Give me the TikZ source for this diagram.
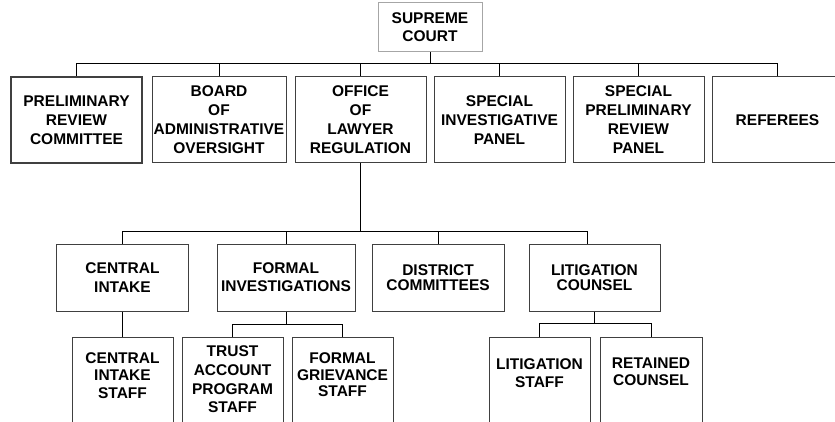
\documentclass[tikz,border=0pt]{standalone}
\usepackage{fontspec}
\setmainfont{Liberation Sans}
\usepackage{tikz}
\newcommand{\orgfont}[1]{\bfseries\fontsize{15.5}{#1}\selectfont}
\tikzset{
	orgbox/.style={draw=black!75, line width=1pt, align=center, inner xsep=0.5pt, font=\orgfont{19}},
	unitbox/.style={orgbox, minimum width=131pt, minimum height=86pt},
	deptbox/.style={orgbox, minimum width=132pt, minimum height=67pt, font=\orgfont{18.3}},
	staffbox/.style={orgbox, anchor=north, minimum width=101pt, text depth=100pt, font=\orgfont{17.5}},
	link/.style={line width=1pt}
}

\begin{document}
\begin{tikzpicture}[x=1pt,y=-1pt]
			\useasboundingbox (0,0) rectangle (835,422);
			\clip (0,0) rectangle (835,422);
			\node[orgbox, draw=black!35, minimum width=104pt, minimum height=49pt, font=\orgfont{18}] (sc) at (430,27.5) {SUPREME\\COURT};
			\node[unitbox, line width=1.7pt] (prc) at (76.5,120) {PRELIMINARY\\REVIEW\\COMMITTEE};
			\node[unitbox, minimum width=134pt] (boa) at (219,120) {BOARD\\OF\\ADMINISTRATIVE\\OVERSIGHT};
			\node[unitbox] (olr) at (360.5,120) {OFFICE\\OF\\LAWYER\\REGULATION};
			\node[unitbox] (sip) at (499.5,120) {SPECIAL\\INVESTIGATIVE\\PANEL};
			\node[unitbox] (sprp) at (638.5,120) {SPECIAL\\PRELIMINARY\\REVIEW\\PANEL};
			\node[unitbox] (ref) at (777.5,120) {REFEREES};
			\node[deptbox] (ci) at (122.5,277.5) {CENTRAL\\INTAKE};
			\node[deptbox, minimum width=138pt] (fi) at (286,277.5) {FORMAL\\INVESTIGATIONS};
			\node[deptbox, font=\orgfont{14.5}] (dc) at (438,277.5) {DISTRICT\\COMMITTEES};
			\node[deptbox, minimum width=131pt, font=\orgfont{14.5}] (lc) at (594.5,277.5) {LITIGATION\\COUNSEL};
			\node[staffbox, inner ysep=15pt] (cis) at (122.5,337) {CENTRAL\\INTAKE\\STAFF};
			\node[staffbox, inner ysep=8.5pt, font=\orgfont{18.7}] (tap) at (232.5,337) {TRUST\\ACCOUNT\\PROGRAM\\STAFF};
			\node[staffbox, inner ysep=15pt, font=\orgfont{16.7}] (fgs) at (342.5,337) {FORMAL\\GRIEVANCE\\STAFF};
			\node[staffbox, inner ysep=21pt, font=\orgfont{18.3}] (ls) at (539.5,337) {LITIGATION\\STAFF};
			\node[staffbox, inner ysep=20pt, minimum width=102pt] (rc) at (651,337) {RETAINED\\COUNSEL};
			\coordinate (b0) at (430,64);
			\coordinate (b1) at (360.5,231);
			\coordinate (b2) at (286,324);
			\coordinate (b3) at (594.5,323.5);
			\draw[link] (sc) -- (b0);
			\draw[link] (b0) -| (prc);
			\draw[link] (b0) -| (boa);
			\draw[link] (b0) -| (olr);
			\draw[link] (b0) -| (sip);
			\draw[link] (b0) -| (sprp);
			\draw[link] (b0) -| (ref);
			\draw[link] (olr) -- (b1);
			\draw[link] (b1) -| (ci);
			\draw[link] (b1) -| (fi);
			\draw[link] (b1) -| (dc);
			\draw[link] (b1) -| ([xshift=-7.5pt]lc.north);
			\draw[link] (ci) -- (cis);
			\draw[link] (fi) -- (b2);
			\draw[link] (b2) -| (tap);
			\draw[link] (b2) -| (fgs);
			\draw[link] (lc) -- (b3);
			\draw[link] (b3) -| (ls);
			\draw[link] (b3) -| (rc);
		\end{tikzpicture}
\end{document}
